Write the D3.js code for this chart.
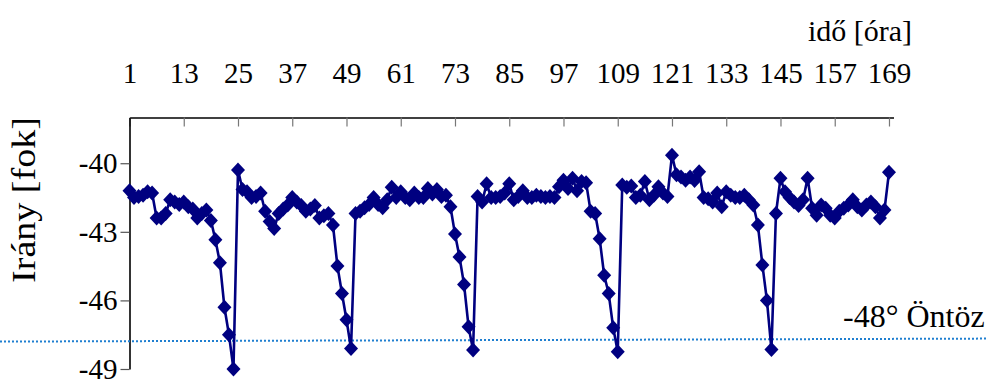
<!DOCTYPE html>
<html>
<head>
<meta charset="utf-8">
<script src="https://cdn.jsdelivr.net/npm/d3@7"></script>
<style>
  html, body { margin: 0; padding: 0; background: #fff; }
  svg { display: block; }
  svg text { font-family: "Liberation Serif", "Times New Roman", serif; }
</style>
</head>
<body>
<div id="chart"></div>
<script>
// hourly wind direction over one week (169 hours)
const hours = d3.range(1, 170);
const direction = [
  -41.2, -41.5, -41.45, -41.4, -41.25, -41.3, -42.4, -42.4, -42.2, -41.6,
  -41.7, -41.8, -41.7, -41.9, -42.0, -42.4, -42.2, -42.05, -42.5, -43.35,
  -44.35, -46.3, -47.5, -49.0, -40.3,
  -41.15, -41.25, -41.5, -41.45, -41.3, -42.1, -42.55, -42.85, -42.2, -42.0,
  -41.83, -41.5, -41.7, -41.85, -42.1, -42.0, -41.85, -42.4, -42.3, -42.2,
  -42.7, -44.5, -45.7, -46.85, -48.1, -42.2,
  -42.1, -41.95, -41.8, -41.5, -41.8, -41.95, -41.6, -41.05, -41.5, -41.25,
  -41.5, -41.6, -41.3, -41.5, -41.5, -41.1, -41.35, -41.15, -41.45, -41.4,
  -41.9, -43.1, -44.1, -45.3, -47.15, -48.17, -41.45,
  -41.7, -40.9, -41.5, -41.5, -41.45, -41.3, -40.9, -41.6, -41.45, -41.2,
  -41.5, -41.5, -41.4, -41.45, -41.5, -41.45, -41.5, -41.03, -40.74, -41.1,
  -40.66, -41.2, -40.8, -40.85, -42.1, -42.2, -43.3, -44.9, -45.7, -47.2,
  -48.25, -40.95,
  -41.05, -41.0, -41.5, -41.4, -40.8, -41.6, -41.4, -41.03, -41.3, -41.45,
  -39.65, -40.5, -40.6, -40.74, -40.6, -40.75, -40.37, -41.5, -41.55, -41.7,
  -41.3, -41.9, -41.25, -41.4, -41.5, -41.5, -41.4, -41.6, -41.83, -42.7,
  -44.45, -46.0, -48.15, -42.2, -40.66,
  -41.25, -41.5, -41.7, -41.85, -41.6, -40.66, -41.97, -42.27, -41.83, -41.97,
  -42.27, -42.4, -42.1, -41.97, -41.83, -41.6, -41.9, -42.05, -41.83, -41.7,
  -41.9, -42.4, -42.05, -40.4
];
const hourTicks = [1, 13, 25, 37, 49, 61, 73, 85, 97, 109, 121, 133, 145, 157, 169];
const yTicks = [-40, -43, -46, -49];
// hand-drawn irrigation threshold line (value at left and right page edge)
const irrigationLevel = [-47.8, -47.67];
const irrigationLabel = '-48° Öntöz';

const width = 988;
const height = 381;
const margin = { top: 117.5, right: 94.5, bottom: 12, left: 129.5 };
const serif = '"Liberation Serif", "Times New Roman", serif';

const svg = d3.select('#chart')
  .append('svg')
  .attr('width', width)
  .attr('height', height);

const x = d3.scaleLinear()
  .domain([1, 170])
  .range([margin.left, width - margin.right]);

const y = d3.scaleLinear()
  .domain([-49, -38])
  .range([height - margin.bottom, margin.top]);

// top category axis, ticks pointing into the plot
const xAxis = svg.append('g')
  .attr('transform', `translate(0,${margin.top})`)
  .call(d3.axisTop(x).tickValues(hourTicks).tickSizeInner(-9).tickSizeOuter(0).tickPadding(35).tickFormat(d => d));
xAxis.select('.domain').attr('stroke', '#000').attr('stroke-width', 1.6);
xAxis.selectAll('.tick line').attr('stroke', '#777').attr('stroke-width', 1.2);
xAxis.selectAll('.tick text')
  .style('font-family', serif)
  .attr('font-size', 29)
  .attr('fill', '#000');

svg.append('text')
  .attr('x', 912)
  .attr('y', 41)
  .attr('text-anchor', 'end')
  .attr('font-size', 30)
  .text('idő [óra]');

// left value axis
const yAxis = svg.append('g')
  .attr('transform', `translate(${margin.left},0)`)
  .call(d3.axisLeft(y).tickValues(yTicks).tickSizeInner(9).tickSizeOuter(0).tickPadding(3).tickFormat(d => String(d)));
yAxis.select('.domain').attr('stroke', '#000').attr('stroke-width', 1.6);
yAxis.selectAll('.tick line').attr('stroke', '#555').attr('stroke-width', 1.2);
yAxis.selectAll('.tick text')
  .style('font-family', serif)
  .attr('font-size', 29)
  .attr('fill', '#000');

svg.append('text')
  .attr('transform', `translate(35,200) rotate(-90) scale(1.12,1)`)
  .attr('text-anchor', 'middle')
  .attr('font-size', 34)
  .text('Irány [fok]');

// irrigation threshold
svg.append('line')
  .attr('x1', 0)
  .attr('x2', width)
  .attr('y1', y(irrigationLevel[0]))
  .attr('y2', y(irrigationLevel[1]))
  .attr('stroke', '#1f7fd0')
  .attr('stroke-width', 2)
  .attr('stroke-dasharray', '2,2');

svg.append('text')
  .attr('x', 843)
  .attr('y', 327)
  .attr('font-size', 32)
  .text(irrigationLabel);

// series
const line = d3.line()
  .x((_, i) => x(hours[i]))
  .y(d => y(d));

svg.append('path')
  .datum(direction)
  .attr('fill', 'none')
  .attr('stroke', '#000080')
  .attr('stroke-width', 2.6)
  .attr('stroke-linejoin', 'round')
  .attr('d', line);

svg.append('g')
  .selectAll('path')
  .data(direction)
  .enter()
  .append('path')
  .attr('transform', (d, i) => `translate(${x(hours[i])},${y(d)})`)
  .attr('d', 'M0,-7.5L7,0L0,7.5L-7,0Z')
  .attr('fill', '#000080');
</script>
</body>
</html>
